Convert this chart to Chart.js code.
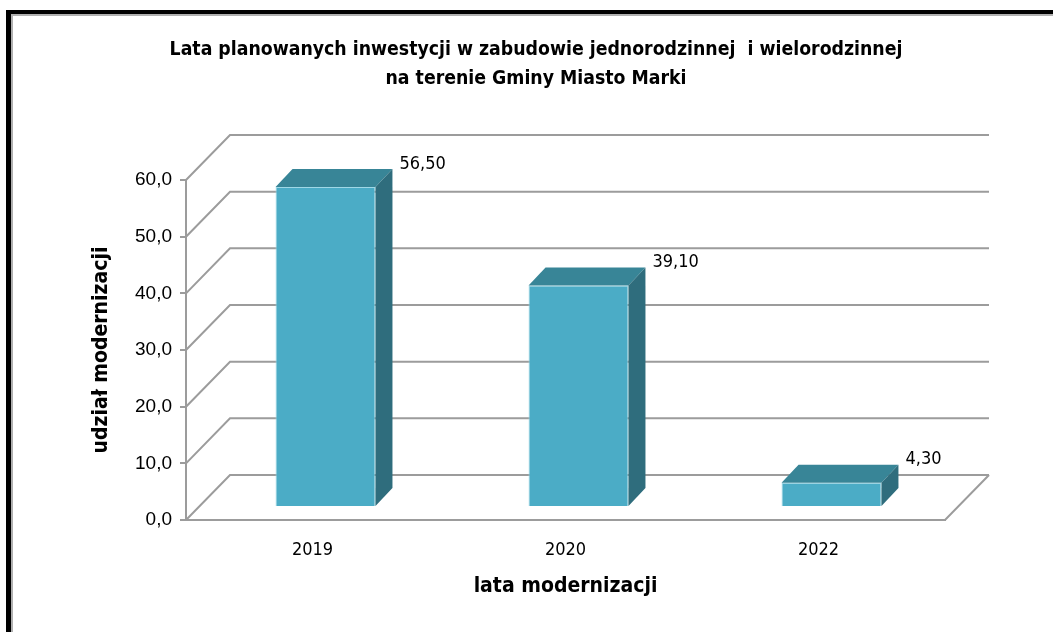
<!DOCTYPE html>
<html>
<head>
<meta charset="utf-8">
<script src="https://cdn.jsdelivr.net/npm/chart.js@4"></script>
<style>
  html, body { margin: 0; padding: 0; background: #fff; }
  #frame {
    position: absolute; left: 6px; top: 10px; width: 1100px; height: 700px;
    border-left: 5px solid #000; border-top: 4px solid #000;
    box-shadow: inset 2px 2px 0 #b0b0b0;
  }
  #chart { position: absolute; left: 0; top: 0; }
</style>
</head>
<body>
<div id="frame"></div>
<canvas id="chart" width="1053" height="632"></canvas>
<script>
// data
const years = ['2019', '2020', '2022'];
const shares = [56.5, 39.1, 4.3];
const yMin = 0, yMax = 60, yStep = 10;

const titleLines = [
  'Lata planowanych inwestycji w zabudowie jednorodzinnej  i wielorodzinnej',
  'na terenie Gminy Miasto Marki'
];

const NARROW = '"Liberation Sans Narrow", "Arial Narrow", "DejaVu Sans Condensed", sans-serif';
const SANS = '"Liberation Sans", Arial, sans-serif';

const FRONT = '#4bacc6';
const TOP = '#388597';
const SIDE = '#2f6d7d';
const GRID = '#9c9c9c';

// 3d offsets
const DX = 44, DY = -45;   // back wall
const BX = 13, BY = -13;   // front face of bars
const BDX = 17, BDY = -18; // bar depth

const fmt = (v, d) => v.toFixed(d).replace('.', ',');

const box3d = {
  id: 'box3d',
  beforeDatasetsDraw(chart) {
    const { ctx, chartArea: { left, right, bottom }, scales: { y } } = chart;
    ctx.save();
    ctx.strokeStyle = GRID;
    ctx.lineWidth = 2;
    y.ticks.forEach(t => {
      const py = y.getPixelForValue(t.value);
      ctx.beginPath();
      ctx.moveTo(left, py);
      ctx.lineTo(left + DX, py + DY);
      ctx.lineTo(right + DX, py + DY);
      ctx.stroke();
    });
    // floor
    ctx.beginPath();
    ctx.moveTo(right + DX, bottom + DY);
    ctx.lineTo(right, bottom);
    ctx.lineTo(left, bottom);
    ctx.stroke();
    ctx.restore();

    // bars sit inside the box
    ctx.save();
    ctx.translate(BX, BY);
  },
  afterDatasetsDraw(chart) {
    const ctx = chart.ctx;
    chart.getDatasetMeta(0).data.forEach((bar, i) => {
      const { x, y, base, width } = bar.getProps(['x', 'y', 'base', 'width'], true);
      const l = x - width / 2, r = x + width / 2;
      ctx.fillStyle = TOP;
      ctx.beginPath();
      ctx.moveTo(l, y);
      ctx.lineTo(l + BDX, y + BDY);
      ctx.lineTo(r + BDX, y + BDY);
      ctx.lineTo(r, y);
      ctx.closePath();
      ctx.fill();

      ctx.fillStyle = SIDE;
      ctx.beginPath();
      ctx.moveTo(r, y);
      ctx.lineTo(r + BDX, y + BDY);
      ctx.lineTo(r + BDX, base + BDY);
      ctx.lineTo(r, base);
      ctx.closePath();
      ctx.fill();

      // value label
      ctx.fillStyle = '#000';
      ctx.font = '18px ' + NARROW;
      ctx.textAlign = 'left';
      ctx.textBaseline = 'middle';
      ctx.fillText(fmt(shares[i], 2), r + BDX + 7, y + BDY - 5);
    });
    ctx.restore();
  }
};

new Chart(document.getElementById('chart'), {
  type: 'bar',
  data: {
    labels: years,
    datasets: [{
      data: shares,
      backgroundColor: FRONT,
      borderColor: '#9fd8e6',
      borderWidth: 1,
      barPercentage: 0.395,
      categoryPercentage: 1,
      clip: false
    }]
  },
  options: {
    responsive: false,
    animation: false,
    layout: { padding: { left: 19, right: 0, top: 0, bottom: 20 } },
    plugins: {
      legend: { display: false },
      tooltip: { enabled: false },
      title: {
        display: true,
        text: titleLines,
        color: '#000',
        font: { family: NARROW, size: 19.3, weight: 'bold', lineHeight: 1.53 },
        padding: { top: 35, bottom: 86 }
      }
    },
    scales: {
      x: {
        grid: { display: true, drawOnChartArea: false, drawTicks: false },
        border: { display: true, color: GRID, width: 2 },
        ticks: { color: '#000', font: { family: NARROW, size: 18 }, padding: 20 },
        title: {
          display: true, text: 'lata modernizacji', color: '#000',
          font: { family: NARROW, size: 21, weight: 'bold' },
          padding: { top: 0, bottom: 13 }
        },
        afterFit: s => { s.height = 92; }
      },
      y: {
        min: yMin,
        max: yMax,
        ticks: {
          stepSize: yStep,
          callback: v => fmt(v, 1),
          color: '#000',
          font: { family: SANS, size: 19 },
          padding: 8
        },
        grid: { drawOnChartArea: false, drawTicks: true, tickLength: 6, color: GRID, lineWidth: 2 },
        border: { display: true, color: GRID, width: 2 },
        title: {
          display: true, text: 'udział modernizacji', color: '#000',
          font: { family: NARROW, size: 21, weight: 'bold' },
          padding: { top: 70, bottom: 0 }
        },
        afterFit: s => { s.width = 167; }
      },
      yr: {
        type: 'linear',
        position: 'right',
        grid: { display: false },
        border: { display: false },
        ticks: { display: false },
        afterFit: s => { s.width = 108; }
      }
    }
  },
  plugins: [box3d]
});
</script>
</body>
</html>
